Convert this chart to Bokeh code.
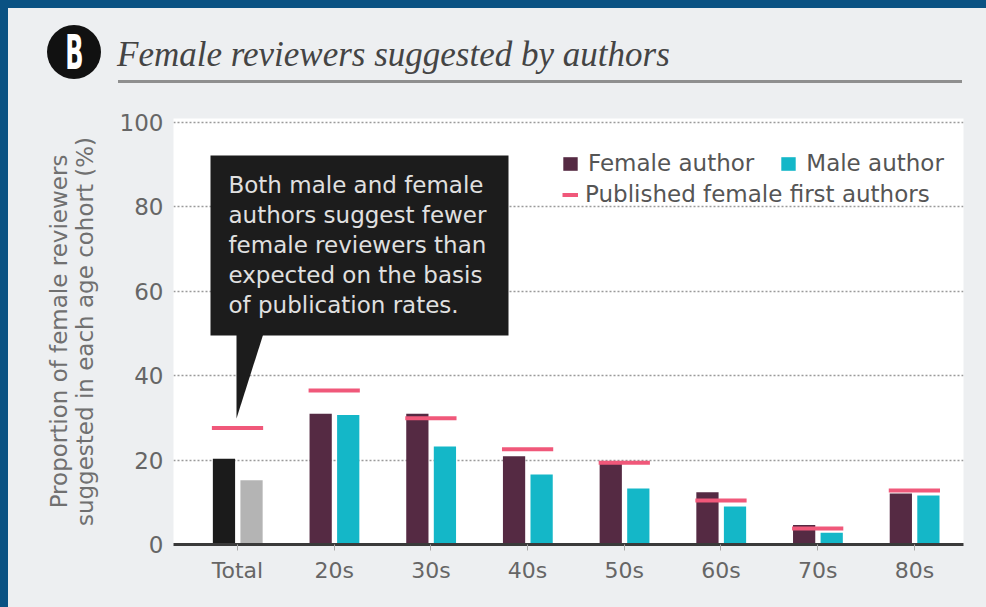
from bokeh.plotting import figure
from bokeh.models import (ColumnDataSource, Range1d, FixedTicker, Label, BoxAnnotation,
                          PolyAnnotation, Legend, LegendItem, Div)
from bokeh.layouts import column, row
from bokeh.transform import dodge
from bokeh.embed import file_html
from bokeh.resources import INLINE

# ---------------- data ----------------
categories = ["Total", "20s", "30s", "40s", "50s", "60s", "70s", "80s"]
female_author = [20.3, 31.0, 31.0, 20.9, 19.2, 12.4, 4.6, 12.1]
male_author = [15.2, 30.7, 23.2, 16.6, 13.3, 9.0, 2.8, 11.6]
published_female_first = [27.6, 36.5, 29.9, 22.6, 19.4, 10.4, 3.8, 12.8]
y_ticks = [0, 20, 40, 60, 80, 100]

title_text = "Female reviewers suggested by authors"
y_title = "Proportion of female reviewers\nsuggested in each age cohort (%)"
callout_lines = ["Both male and female", "authors suggest fewer", "female reviewers than",
                 "expected on the basis", "of publication rates."]

# ---------------- style ----------------
PANEL = "#edeff1"
BLUE = "#0a5283"
FEMALE = "#552a43"
MALE = "#14b7c8"
TOTAL_F = "#1b1b1b"
TOTAL_M = "#b4b4b4"
PINK = "#f0587a"
FONT = "DejaVu Sans"

n = len(categories)
female_colors = [TOTAL_F] + [FEMALE] * (n - 1)
male_colors = [TOTAL_M] + [MALE] * (n - 1)

PAGE_W, PAGE_H = 986, 607
HEADER_H = 95
STRIP_W = 8
# frame edges in page pixels
PFL, PFR, PFT, PFB = 173, 963, 118, 544
X0, X1 = -0.662, 7.508
Y0, Y1 = 0.0, 100.95

W = PAGE_W - STRIP_W
H = PAGE_H - HEADER_H


def X(px):  # page pixel -> data x
    return X0 + (px - PFL) * (X1 - X0) / (PFR - PFL)


def Y(py):  # page pixel -> data y
    return Y0 + (PFB - py) * (Y1 - Y0) / (PFB - PFT)


p = figure(width=W, height=H, x_range=Range1d(X0, X1), y_range=Range1d(Y0, Y1),
           output_backend="svg", toolbar_location=None,
           min_border_left=PFL - STRIP_W, min_border_right=PAGE_W - PFR,
           min_border_top=PFT - HEADER_H, min_border_bottom=PAGE_H - PFB,
           background_fill_color="white", border_fill_color=PANEL,
           outline_line_color=None)

# axes
p.xaxis.ticker = FixedTicker(ticks=list(range(n)))
p.xaxis.major_label_overrides = {i: c for i, c in enumerate(categories)}
p.xaxis.axis_line_color = "#3a3a3a"
p.xaxis.axis_line_width = 3
p.xaxis.major_tick_in = 0
p.xaxis.major_tick_out = 6
p.xaxis.major_tick_line_color = "#aaaaaa"
p.xaxis.minor_tick_line_color = None
p.xaxis.major_label_text_font = FONT
p.xaxis.major_label_text_font_size = "22px"
p.xaxis.major_label_text_color = "#666666"
p.xaxis.major_label_standoff = 7

p.yaxis.ticker = FixedTicker(ticks=y_ticks)
p.yaxis.axis_line_color = None
p.yaxis.major_tick_line_color = None
p.yaxis.minor_tick_line_color = None
p.yaxis.major_label_text_font = FONT
p.yaxis.major_label_text_font_size = "23px"
p.yaxis.major_label_text_color = "#666666"
p.yaxis.major_label_standoff = 4
p.yaxis.axis_label = y_title
p.yaxis.axis_label_text_font = FONT
p.yaxis.axis_label_text_font_size = "23px"
p.yaxis.axis_label_text_font_style = "normal"
p.yaxis.axis_label_text_color = "#707070"
p.yaxis.axis_label_text_line_height = 1.0
p.yaxis.axis_label_standoff = 19

p.xgrid.grid_line_color = None
p.ygrid.grid_line_color = "#9a9a9a"
p.ygrid.grid_line_dash = "2 2"
p.ygrid.grid_line_width = 1.5

# bars and markers
src = ColumnDataSource(dict(x=list(range(n)), female=female_author, male=male_author,
                            pub=published_female_first, fcol=female_colors, mcol=male_colors))
rf = p.vbar(x=dodge("x", -0.14), top="female", bottom=0, width=0.23,
            fill_color="fcol", line_color=None, source=src)
rm = p.vbar(x=dodge("x", 0.145), top="male", bottom=0, width=0.23,
            fill_color="mcol", line_color=None, source=src)
rp = p.segment(x0=dodge("x", -0.265), x1=dodge("x", 0.265), y0="pub", y1="pub",
               line_color=PINK, line_width=4, source=src)

# legends
leg1 = Legend(items=[LegendItem(label="Female author", renderers=[rf], index=1),
                     LegendItem(label="Male author", renderers=[rm], index=1)],
              orientation="horizontal", location=(388, 368), padding=0, margin=0,
              spacing=25, glyph_width=18, glyph_height=17, label_standoff=9,
              label_text_font=FONT, label_text_font_size="23px",
              label_text_color="#555555", border_line_color=None,
              background_fill_alpha=0)
leg2 = Legend(items=[LegendItem(label="Published female first authors", renderers=[rp])],
              orientation="horizontal", location=(389, 337), padding=0, margin=0,
              glyph_width=16, glyph_height=17, label_standoff=7,
              label_text_font=FONT, label_text_font_size="23px",
              label_text_color="#555555", border_line_color=None,
              background_fill_alpha=0)
p.add_layout(leg1)
p.add_layout(leg2)

# callout
p.add_layout(BoxAnnotation(left=X(210), right=X(508), top=Y(155), bottom=Y(335),
                           fill_color="#1c1c1c", fill_alpha=1, line_color=None))
p.add_layout(PolyAnnotation(xs=[X(236), X(263), X(236)], ys=[Y(333), Y(333), Y(418)],
                            fill_color="#1c1c1c", fill_alpha=1, line_color=None))
for i, line in enumerate(callout_lines):
    p.add_layout(Label(x=X(228), y=Y(184 + 30 * i), text=line, text_font=FONT,
                       text_font_size="23px", text_color="#e0e0e0",
                       text_baseline="middle", text_align="left"))

# header (badge, italic title, rule)
header_html = f"""
<div style="position:relative;width:{PAGE_W}px;height:{HEADER_H}px;background:{PANEL};overflow:hidden;margin:0;padding:0;">
  <div style="position:absolute;left:0;top:0;width:{PAGE_W}px;height:8px;background:{BLUE};"></div>
  <div style="position:absolute;left:0;top:0;width:{STRIP_W}px;height:{HEADER_H}px;background:{BLUE};"></div>
  <div style="position:absolute;left:47px;top:25px;width:54px;height:54px;border-radius:50%;background:#111111;text-align:center;line-height:54px;">
    <span style="display:inline-block;transform:scaleX(0.5);font-family:'DejaVu Sans';font-weight:bold;font-size:48px;color:#ffffff;line-height:54px;">B</span>
  </div>
  <div style="position:absolute;left:117px;top:37px;white-space:nowrap;font-family:'Liberation Serif';font-style:italic;font-size:35px;line-height:35px;color:#444444;">{title_text}</div>
  <div style="position:absolute;left:118px;top:80px;width:844px;height:3px;background:#8f8f8f;"></div>
</div>
"""
header = Div(text=header_html, width=PAGE_W, height=HEADER_H, margin=0,
             styles={"background-color": PANEL})
strip = Div(text="", width=STRIP_W, height=H, margin=0,
            styles={"background-color": BLUE})

layout = column(header, row(strip, p, spacing=0, styles={"background-color": PANEL}),
                spacing=0, styles={"background-color": PANEL})

open("out.html", "w").write(file_html(layout, INLINE))
